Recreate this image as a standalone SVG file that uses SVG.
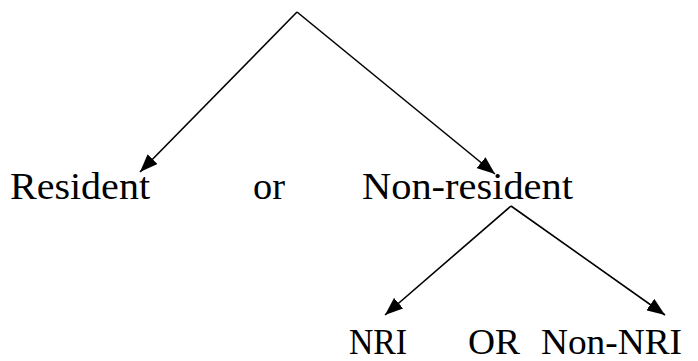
<svg xmlns="http://www.w3.org/2000/svg" width="698" height="361" viewBox="0 0 698 361">
<style>
.lbl{font-family:"Liberation Serif","Times New Roman",serif;font-size:38px;fill:#000}
.sm{font-size:36px}
.edge{stroke:#000;stroke-width:1.6;fill:none;marker-end:url(#ah)}
</style>
<defs>
<marker id="ah" markerUnits="userSpaceOnUse" viewBox="0 0 18 14" refX="18" refY="7" markerWidth="18" markerHeight="14" orient="auto">
<path d="M0,0 L18,7 L0,14 Z" fill="#000"/>
</marker>
</defs>
<rect width="698" height="361" fill="#fff"/>
<g id="connectors">
<line class="edge" x1="297" y1="12" x2="140" y2="172"/>
<line class="edge" x1="297" y1="12" x2="495" y2="174"/>
<line class="edge" x1="511" y1="206" x2="385" y2="315"/>
<line class="edge" x1="511" y1="206" x2="665" y2="315"/>
</g>
<g id="resident"><text class="lbl" x="10" y="199" textLength="140" lengthAdjust="spacingAndGlyphs">Resident</text></g>
<g id="or"><text class="lbl" x="253" y="199" textLength="32" lengthAdjust="spacingAndGlyphs">or</text></g>
<g id="nonresident"><text class="lbl" x="362" y="199" textLength="211" lengthAdjust="spacingAndGlyphs">Non-resident</text></g>
<g id="nri"><text class="lbl sm" x="349" y="354" textLength="58" lengthAdjust="spacingAndGlyphs">NRI</text></g>
<g id="or2"><text class="lbl sm" x="468" y="354" textLength="52" lengthAdjust="spacingAndGlyphs">OR</text></g>
<g id="nonnri"><text class="lbl sm" x="541" y="354" textLength="141" lengthAdjust="spacingAndGlyphs">Non-NRI</text></g>
</svg>
